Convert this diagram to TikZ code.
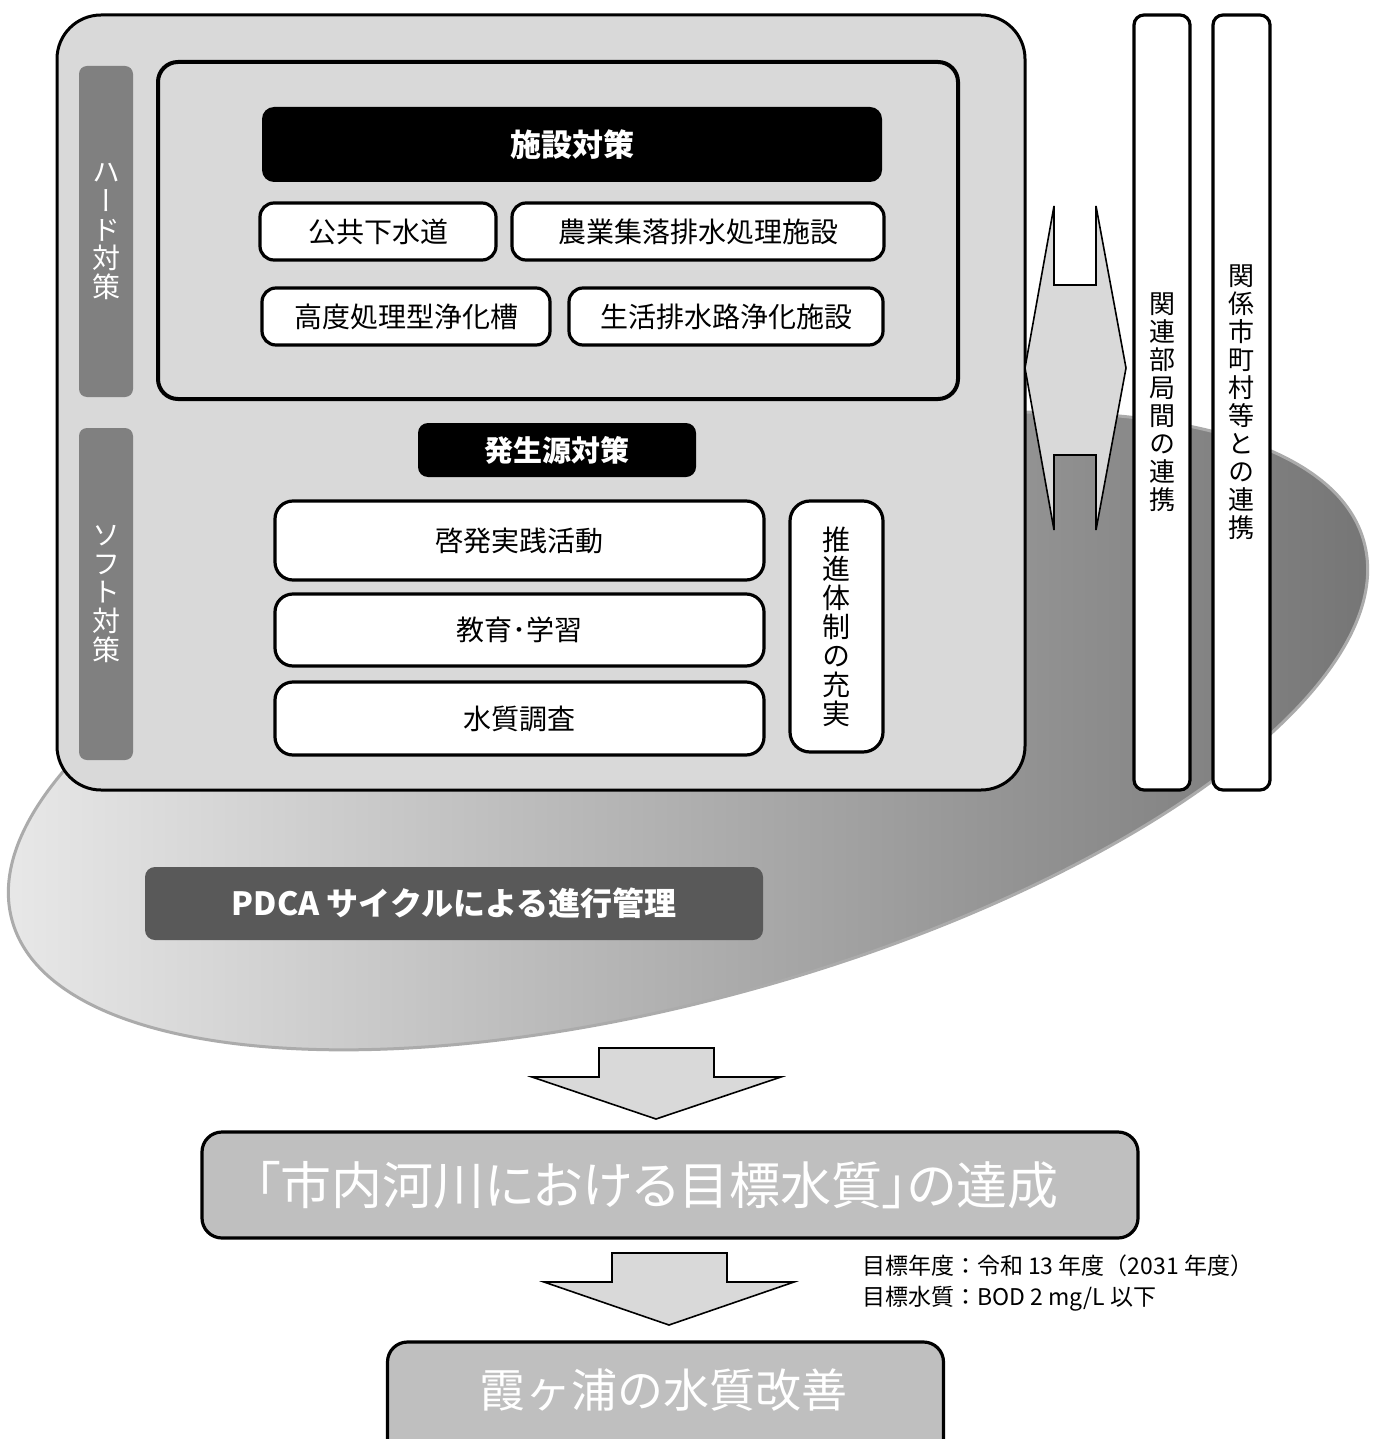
\documentclass[tikz,border=0pt]{standalone}
\usepackage{fontspec}
\newfontfamily\jp{Noto Sans CJK JP}
\newfontfamily\jpp[RawFeature=+palt]{Noto Sans CJK JP}
\newfontfamily\jpv[RawFeature=+vert]{Noto Sans CJK JP}
\definecolor{mainfill}{HTML}{D9D9D9}
\definecolor{barfill}{HTML}{808080}
\definecolor{pdcafill}{HTML}{595959}
\definecolor{bigfill}{HTML}{BFBFBF}
\definecolor{ellline}{HTML}{ABABAB}
\begin{document}
\begin{tikzpicture}[x=0.5pt,y=-0.5pt,
  base/.style={inner sep=0pt,outer sep=0pt,rectangle},
  mainbox/.style={base,draw,line width=1.5pt,fill=mainfill,rounded corners=22pt},
  innerbox/.style={base,draw,line width=2pt,fill=mainfill,rounded corners=10pt},
  bar/.style={base,fill=barfill,rounded corners=4pt,text=white,align=center,
    font={\jpv\fontsize{14}{14.3}\selectfont\lineskiplimit=-20pt}},
  blk/.style={base,fill=black,text=white,rounded corners=6pt},
  wbox/.style={base,draw,line width=1.6pt,fill=white,rounded corners=7pt,
    font={\jp\fontsize{14}{14}\selectfont}},
  vbox/.style={base,draw,line width=1.6pt,fill=white,align=center},
  bigbox/.style={base,draw,line width=1.6pt,fill=bigfill,rounded corners=10pt},
  bigtext/.style={base,text=white},
  blockarrow/.style={draw,line width=0.8pt,fill=mainfill,line join=miter},
  note/.style={base,anchor=base west,font={\jp\fontsize{11.5}{11.5}\selectfont}}
]
\useasboundingbox (0,0) rectangle (1376,1439);
\fill[white] (0,0) rectangle (1376,1439);

% background ellipse
\begin{scope}[shift={(688,731)},rotate=15.7]
  \shade[left color=black!8,right color=black!55,draw=ellline,line width=1.5pt]
    (0,0) ellipse [x radius=351pt,y radius=133pt];
\end{scope}

% main panel
\node[mainbox,minimum width=484pt,minimum height=387.5pt] (main) at (541,402.5) {};
\node[bar,minimum width=27pt,minimum height=165.5pt] (hard) at (106,231.5)
  {ハ\\ー\\ド\\対\\策};
\node[bar,minimum width=27pt,minimum height=166pt] (soft) at (106,594)
  {ソ\\フ\\ト\\対\\策};
\node[innerbox,minimum width=400pt,minimum height=168.5pt] (inner) at (558,230.5) {};

\node[blk,minimum width=310pt,minimum height=37.5pt,font={\jp\bfseries\fontsize{15.5}{15.5}\selectfont}]
  (shisetsu) at (572,144.5) {施設対策};
\node[wbox,minimum width=118pt,minimum height=28.5pt] (koukyou) at (378,231.5) {公共下水道};
\node[wbox,minimum width=186pt,minimum height=28.5pt] (nougyou) at (698,231.5) {農業集落排水処理施設};
\node[wbox,minimum width=144pt,minimum height=28.5pt] (koudo) at (406,316.5) {高度処理型浄化槽};
\node[wbox,minimum width=157pt,minimum height=28.5pt] (seikatsu) at (726,316.5) {生活排水路浄化施設};

\node[blk,rounded corners=5pt,minimum width=139pt,minimum height=27pt,font={\jp\bfseries\fontsize{14.5}{14.5}\selectfont}]
  (hassei) at (557,450) {発生源対策};
\node[wbox,rounded corners=9pt,minimum width=244.5pt,minimum height=39.5pt] (keihatsu) at (519.5,540.5) {啓発実践活動};
\node[wbox,rounded corners=9pt,minimum width=244.5pt,minimum height=36pt] (kyouiku) at (519.5,630) {教育･学習};
\node[wbox,rounded corners=9pt,minimum width=244.5pt,minimum height=36.5pt] (suishitsu) at (519.5,718.5) {水質調査};
\node[vbox,rounded corners=10pt,minimum width=46.5pt,minimum height=125.5pt,
  font={\jpv\fontsize{14}{14.5}\selectfont\lineskiplimit=-20pt}]
  (suishin) at (836.5,626.5) {推\\進\\体\\制\\の\\充\\実};

% cooperation columns
\node[vbox,rounded corners=5pt,minimum width=28pt,minimum height=387.5pt,
  font={\jpv\fontsize{13}{14}\selectfont\lineskiplimit=-20pt}]
  (renkei1) at (1162,402.5) {関\\連\\部\\局\\間\\の\\連\\携};
\node[vbox,rounded corners=5pt,minimum width=28.5pt,minimum height=387.5pt,
  font={\jpv\fontsize{13}{14}\selectfont\lineskiplimit=-20pt}]
  (renkei2) at (1241.5,402.5) {関\\係\\市\\町\\村\\等\\と\\の\\連\\携};

% double block arrow between panel and columns
\draw[blockarrow] (1054,206) -- (1054,285) -- (1096,285) -- (1096,206) -- (1126,368)
  -- (1096,530) -- (1096,455) -- (1054,455) -- (1054,530) -- (1025,368) -- cycle;

% PDCA
\node[base,fill=pdcafill,rounded corners=5pt,minimum width=309pt,minimum height=36.5pt,
  text=white,font={\jp\bfseries\fontsize{16}{16}\selectfont}]
  (pdca) at (454,903.5) {PDCA サイクルによる進行管理};

% down arrows and goals
\draw[blockarrow] (599,1048) -- (714,1048) -- (714,1077) -- (781,1077) -- (656,1119)
  -- (532,1077) -- (599,1077) -- cycle;
\node[bigbox,minimum width=468pt,minimum height=53pt] (goal) at (670,1185) {};
\node[bigtext,font={\jpp\fontsize{25.5}{25.5}\selectfont}] (goaltxt) at (657,1185)
  {「市内河川における目標水質」の達成};

\draw[blockarrow] (612,1253) -- (727,1253) -- (727,1282) -- (794,1282) -- (669,1325)
  -- (544,1282) -- (612,1282) -- cycle;
\node[note] (note1) at (862,1274) {目標年度：令和 13 年度（2031 年度）};
\node[note] (note2) at (862,1305) {目標水質：BOD 2 mg/L 以下};

\node[bigbox,minimum width=278pt,minimum height=60pt] (final) at (665.5,1402) {};
\node[bigtext,font={\jp\fontsize{23}{23}\selectfont}] (finaltxt) at (663,1390) {霞ヶ浦の水質改善};
\end{tikzpicture}
\end{document}
